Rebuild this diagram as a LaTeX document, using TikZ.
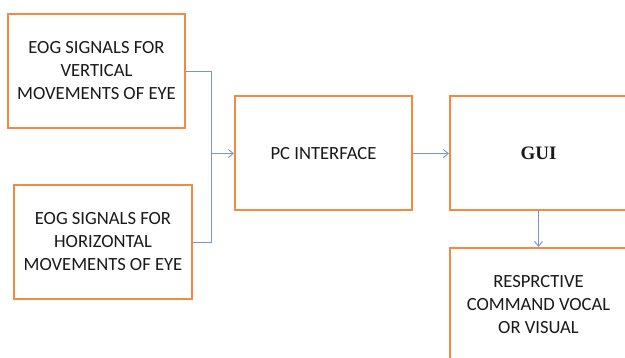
\documentclass[tikz,border=0pt]{standalone}
\usepackage{fontspec}
\setmainfont{Carlito}
\newfontfamily\guifont{Liberation Serif}
\usetikzlibrary{arrows.meta}
\definecolor{boxorange}{RGB}{240,140,65}
\definecolor{linkblue}{RGB}{120,150,200}
\begin{document}
\begin{tikzpicture}[x=1pt,y=-1pt,
  blockbox/.style={draw=boxorange,line width=2pt,fill=white,minimum width=177pt,minimum height=114pt,inner sep=0pt,align=center,font=\fontsize{18.6}{23}\selectfont,text=black!90},
  link/.style={draw=linkblue,line width=0.9pt},
  linkarrow/.style={link,-{Straight Barb[length=5pt,width=8pt]}}]
\useasboundingbox (0,0) rectangle (625,358);
\clip (0,0) rectangle (625,358);
\fill[white] (0,0) rectangle (625,358);
\node[blockbox] (v) at (96.5,71) {EOG SIGNALS FOR\\VERTICAL\\MOVEMENTS OF EYE};
\node[blockbox,minimum width=178pt] (h) at (103,242) {EOG SIGNALS FOR\\HORIZONTAL\\MOVEMENTS OF EYE};
\node[blockbox] (pc) at (323.5,153.5) {PC INTERFACE};
\node[blockbox] (gui) at (538.5,153.5) {\guifont\bfseries\fontsize{19}{22}\selectfont GUI};
\node[blockbox] (cmd) at (538.5,305) {RESPRCTIVE\\COMMAND VOCAL\\OR VISUAL};
\coordinate (j) at (211.5,153.5);
\draw[link] (v.east) -| (j);
\draw[link] (h.east) -| (j);
\draw[linkarrow] (j) -- (pc.west);
\draw[linkarrow] (pc.east) -- (gui.west);
\draw[linkarrow] (gui.south) -- (cmd.north);
\end{tikzpicture}
\end{document}
